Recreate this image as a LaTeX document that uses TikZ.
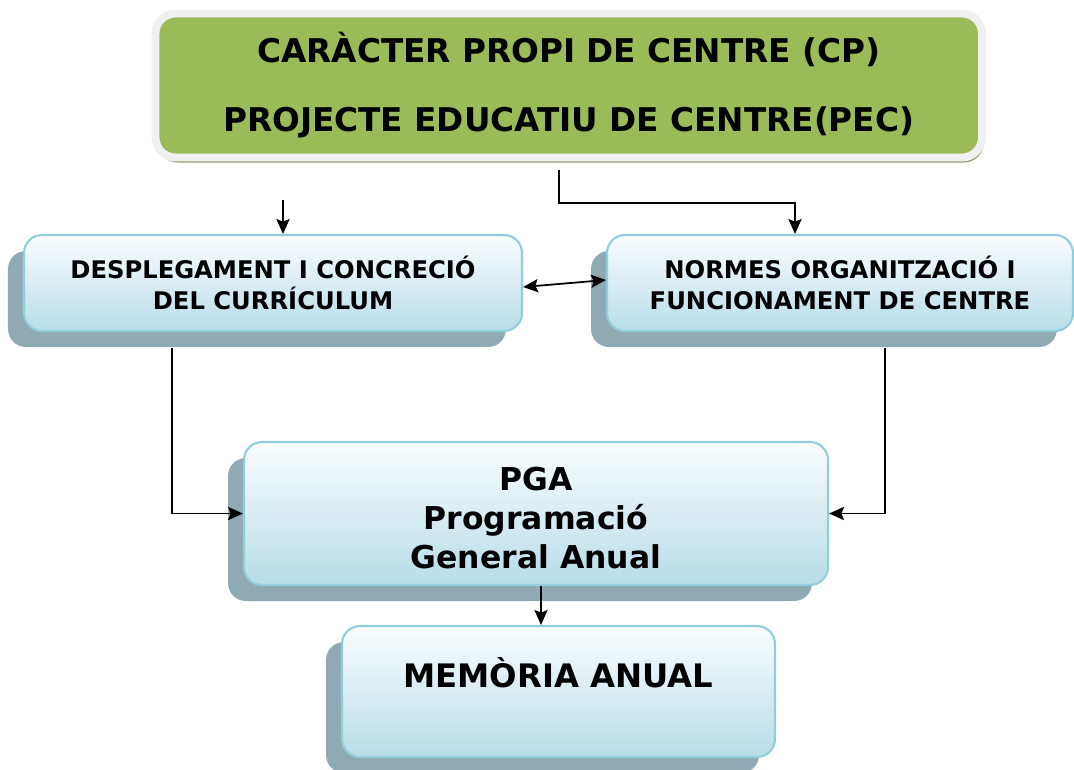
\documentclass[tikz,border=0pt]{standalone}
\usepackage{fontspec}
\setmainfont{DejaVu Sans}
\usepackage{tikz}
\usetikzlibrary{arrows.meta,shadows}

\definecolor{pecgreen}{HTML}{9BBB59}
\definecolor{rimgray}{HTML}{F0F0F0}
\definecolor{olivesh}{HTML}{9C9A6E}
\definecolor{boxtop}{HTML}{FAFDFE}
\definecolor{boxbot}{HTML}{B7DDE8}
\definecolor{boxline}{HTML}{92CDDC}
\definecolor{shadowgray}{HTML}{8FAAB2}

\tikzset{
  bluebox/.style={rounded corners=0.36cm, draw=boxline, line width=1.2pt,
    top color=boxtop, bottom color=boxbot, align=center, font=\bfseries,
    general shadow={fill=shadowgray, shadow xshift=-0.32cm, shadow yshift=-0.32cm}},
  link/.style={line width=1pt, >={Stealth[length=8.5pt,width=7.5pt,inset=1.5pt]}}
}

\begin{document}
\begin{tikzpicture}
\useasboundingbox (0,0) rectangle (21.48,-15.38);

\node[rounded corners=0.4cm, draw=rimgray, line width=4.5pt, fill=pecgreen,
  minimum width=16.53cm, minimum height=2.88cm, align=center,
  font=\fontsize{18.6}{20}\selectfont\bfseries,
  general shadow={fill=olivesh, shadow xshift=0.04cm, shadow yshift=-0.1cm}] (1) at (11.375,-1.71)
{CARÀCTER PROPI DE CENTRE (CP)\\[0.68cm]PROJECTE EDUCATIU DE CENTRE(PEC)};

\node[bluebox, minimum width=9.96cm, minimum height=1.92cm,
  font=\fontsize{13.8}{18}\selectfont\bfseries] (2) at (5.46,-5.66)
{DESPLEGAMENT I CONCRECIÓ\\DEL CURRÍCULUM};

\node[bluebox, minimum width=9.32cm, minimum height=1.92cm,
  font=\fontsize{13.8}{18}\selectfont\bfseries] (3) at (16.8,-5.66)
{NORMES ORGANITZACIÓ I\\FUNCIONAMENT DE CENTRE};

\node[bluebox, minimum width=11.68cm, minimum height=2.86cm,
  font=\fontsize{17.9}{22.2}\selectfont\bfseries] (4) at (10.72,-10.27)
{\rule{0pt}{19pt}PGA\\Programació\\General Anual};

\node[bluebox, minimum width=8.66cm, minimum height=2.62cm,
  font=\fontsize{18.4}{24}\selectfont\bfseries] (5) at (11.17,-13.83)
{MEMÒRIA ANUAL\\[-0.32cm]\strut};

\coordinate (a) at (5.66,-4.0);
\coordinate (b) at (11.18,-3.4);
\coordinate (c) at (15.9,-4.06);

\draw[link,->] (a) -- (a |- 2.north);

\draw[link,->] (b) |- (c) -- (c |- 3.north);

\draw[link,<->] ([yshift=-0.08cm]2.east) -- ([yshift=0.06cm]3.west);

\draw[link,->] ([xshift=-2.02cm,yshift=-0.32cm]2.south) |- (4.west);

\draw[link,->] ([xshift=0.9cm,yshift=-0.32cm]3.south) |- (4.east);

\draw[link,->] ([xshift=0.1cm]4.south) -- ([xshift=0.1cm]4.south |- 5.north);

\end{tikzpicture}
\end{document}
